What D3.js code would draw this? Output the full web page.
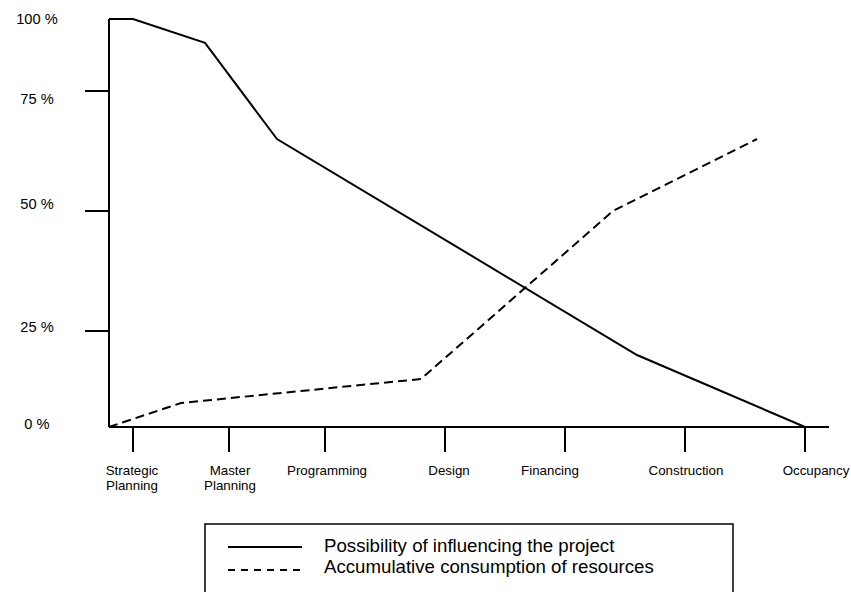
<!DOCTYPE html>
<html>
<head>
<meta charset="utf-8">
<script src="https://cdn.jsdelivr.net/npm/d3@7/dist/d3.min.js"></script>
<style>
    body { margin: 0; background: #fff; }
    text { font-family: "Liberation Sans", Arial, sans-serif; fill: #000; }
</style>
</head>
<body>
<svg id="chart" width="851" height="592"></svg>
<script>
// project phases along the timeline (0 .. 30 time units)
var phases = ["Strategic\nPlanning", "Master\nPlanning", "Programming", "Design", "Financing", "Construction", "Occupancy"];
var phaseAt = [1, 5, 9, 14, 19, 24, 29];

// y ticks (the drawing's percent axis is not evenly spaced)
var pctTicks = [0, 25, 50, 75, 100];
var pctLabels = ["0 %", "25 %", "50 %", "75 %", "100 %"];

// possibility of influencing the project
var influenceT = [0, 1, 4, 7, 22, 29];
var influenceV = [100, 100, 91.7, 65, 18.75, 0];

// accumulative consumption of resources
var resourceT = [0, 3, 13, 21, 27];
var resourceV = [0, 6.25, 12.5, 50, 65];

var svg = d3.select("#chart");

var x = d3.scaleLinear().domain([0, 30]).range([109, 829]);
var y = d3.scaleLinear().domain(pctTicks).range([427, 331, 211, 91, 19]);
// the labels in the drawing sit a bit off their ticks
var xLab = d3.scaleLinear().domain(phaseAt).range([132, 230, 327, 449, 550, 686, 816]);
var yLab = d3.scaleLinear().domain(pctTicks).range([424, 327, 204, 99, 19]);

// axes
svg.append("line")
    .attr("x1", x(0)).attr("x2", x(0))
    .attr("y1", y(0)).attr("y2", y(100))
    .attr("stroke", "#000").attr("stroke-width", 2);
svg.append("line")
    .attr("x1", x(0)).attr("x2", x(30))
    .attr("y1", y(0)).attr("y2", y(0))
    .attr("stroke", "#000").attr("stroke-width", 2);

// y ticks + labels
svg.selectAll(".ytick").data(pctTicks.filter(function (d) { return d > 0 && d < 100; }))
    .enter().append("line")
    .attr("class", "ytick")
    .attr("x1", x(0) - 24).attr("x2", x(0))
    .attr("y1", function (d) { return y(d); }).attr("y2", function (d) { return y(d); })
    .attr("stroke", "#000").attr("stroke-width", 2);

svg.selectAll(".ylab").data(pctTicks)
    .enter().append("text")
    .attr("class", "ylab")
    .attr("x", 37)
    .attr("y", function (d) { return yLab(d); })
    .attr("dy", "0.35em")
    .attr("text-anchor", "middle")
    .style("font-size", "14.67px")
    .text(function (d, i) { return pctLabels[i]; });

// x ticks + labels
svg.selectAll(".xtick").data(phaseAt)
    .enter().append("line")
    .attr("class", "xtick")
    .attr("x1", function (d) { return x(d); }).attr("x2", function (d) { return x(d); })
    .attr("y1", y(0)).attr("y2", y(0) + 25)
    .attr("stroke", "#000").attr("stroke-width", 2);

phases.forEach(function (p, i) {
    var t = svg.append("text")
        .attr("x", xLab(phaseAt[i]))
        .attr("y", 475)
        .attr("text-anchor", "middle")
        .style("font-size", "13.33px");
    p.split("\n").forEach(function (ln, j) {
        t.append("tspan")
            .attr("x", xLab(phaseAt[i]))
            .attr("dy", j == 0 ? 0 : "1.12em")
            .text(ln);
    });
});

// lines
var line = d3.line()
    .x(function (d) { return x(d[0]); })
    .y(function (d) { return y(d[1]); });

svg.append("path")
    .datum(d3.zip(influenceT, influenceV))
    .attr("d", line)
    .attr("fill", "none").attr("stroke", "#000").attr("stroke-width", 2);

svg.append("path")
    .datum(d3.zip(resourceT, resourceV))
    .attr("d", line)
    .attr("fill", "none").attr("stroke", "#000").attr("stroke-width", 2)
    .attr("stroke-dasharray", "9,5");

// legend
var lg = svg.append("g");
lg.append("rect")
    .attr("x", 205).attr("y", 524)
    .attr("width", 528).attr("height", 90)
    .attr("fill", "none").attr("stroke", "#000").attr("stroke-width", 1.5);
lg.append("line")
    .attr("x1", 228).attr("x2", 302).attr("y1", 547).attr("y2", 547)
    .attr("stroke", "#000").attr("stroke-width", 2);
lg.append("line")
    .attr("x1", 228).attr("x2", 302).attr("y1", 570).attr("y2", 570)
    .attr("stroke", "#000").attr("stroke-width", 2)
    .attr("stroke-dasharray", "7,6");
lg.append("text").attr("x", 324).attr("y", 552)
    .style("font-size", "18.67px").text("Possibility of influencing the project");
lg.append("text").attr("x", 324).attr("y", 573)
    .style("font-size", "18.67px").text("Accumulative consumption of resources");
</script>
</body>
</html>
